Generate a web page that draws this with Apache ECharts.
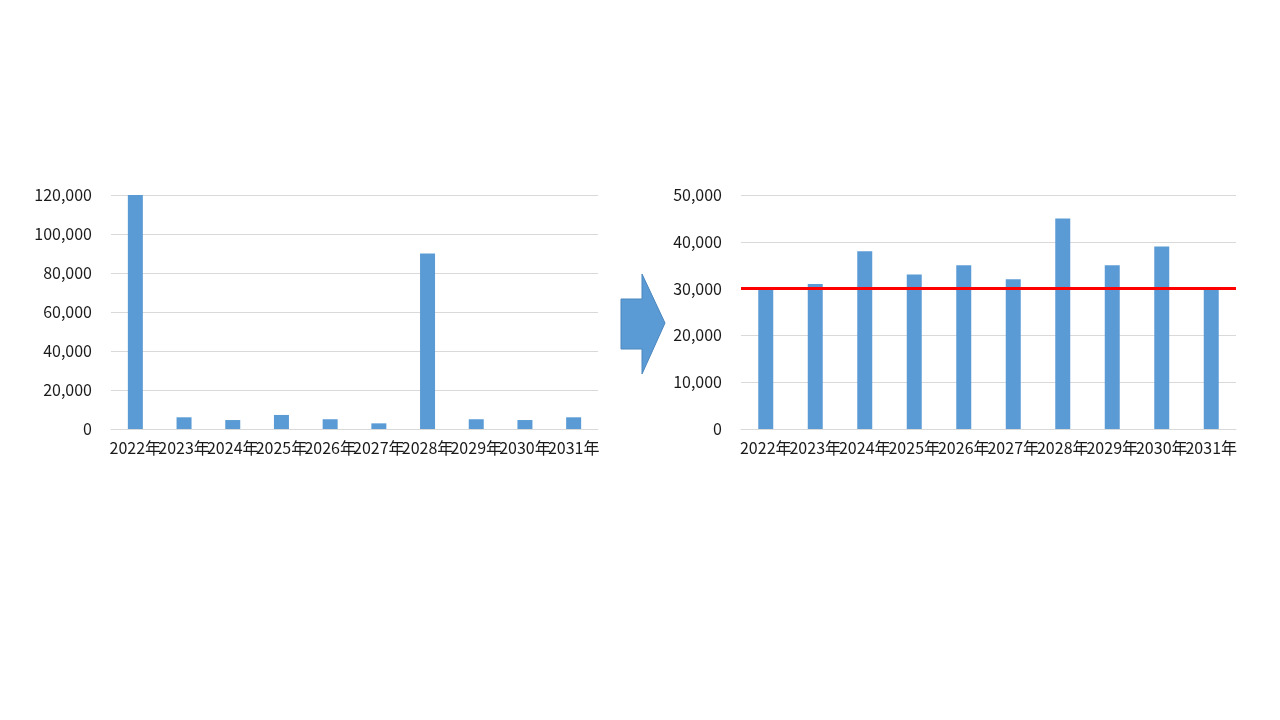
<!DOCTYPE html>
<html>
<head>
<meta charset="utf-8">
<script src="https://cdn.jsdelivr.net/npm/echarts@6/dist/echarts.min.js"></script>
<style>
html,body{margin:0;padding:0;background:#fff;}
#c{width:1280px;height:720px;}
</style>
</head>
<body>
<div id="c"></div>
<script>
const categories = ['2022年','2023年','2024年','2025年','2026年','2027年','2028年','2029年','2030年','2031年'];
const beforeValues = [120000, 6000, 4600, 7200, 5000, 2900, 90000, 5000, 4600, 6000];
const afterValues = [30000, 31000, 38000, 33000, 35000, 32000, 45000, 35000, 39000, 30000];
const thresholdValue = 30000;
const leftAxisMax = 120000, leftAxisInterval = 20000;
const rightAxisMax = 50000, rightAxisInterval = 10000;

const FONT = "'Noto Sans CJK JP', 'Noto Sans', sans-serif";
const BLUE = '#5b9bd5';
const fmt = v => v === 0 ? '0' : v.toLocaleString('en-US');

function xAxis(gi){
  return {
    type:'category', gridIndex:gi, data:categories,
    axisLine:{lineStyle:{color:'#d9d9d9', width:1}},
    axisTick:{show:false},
    axisLabel:{interval:0, color:'#1a1a1a', fontSize:16, fontFamily:FONT, margin:11}
  };
}
function yAxis(gi, max, interval){
  return {
    type:'value', gridIndex:gi, min:0, max:max, interval:interval,
    axisLine:{show:false}, axisTick:{show:false},
    splitLine:{lineStyle:{color:'#d9d9d9', width:1}},
    axisLabel:{color:'#1a1a1a', fontSize:16, fontFamily:FONT, margin:19, formatter:fmt}
  };
}

const chart = echarts.init(document.getElementById('c'), null, {renderer:'canvas'});
chart.setOption({
  animation:false,
  backgroundColor:'#ffffff',
  grid:[
    {left:111, right:682, top:195, bottom:291},
    {left:741, right:44, top:195, bottom:291}
  ],
  xAxis:[xAxis(0), xAxis(1)],
  yAxis:[yAxis(0, leftAxisMax, leftAxisInterval), yAxis(1, rightAxisMax, rightAxisInterval)],
  series:[
    {type:'bar', xAxisIndex:0, yAxisIndex:0, data:beforeValues, barWidth:15, itemStyle:{color:BLUE}},
    {type:'bar', xAxisIndex:1, yAxisIndex:1, data:afterValues, barWidth:15, itemStyle:{color:BLUE},
     markLine:{silent:true, symbol:['none','none'], label:{show:false},
       lineStyle:{color:'#ff0000', width:3, type:'solid'},
       data:[{yAxis:thresholdValue}]}}
  ],
  graphic:[{
    type:'polygon',
    shape:{points:[[621,299],[642,299],[642,274],[665,323],[642,374],[642,349],[621,349]]},
    style:{fill:BLUE, stroke:'#4a86be', lineWidth:1}
  }]
});
</script>
</body>
</html>
